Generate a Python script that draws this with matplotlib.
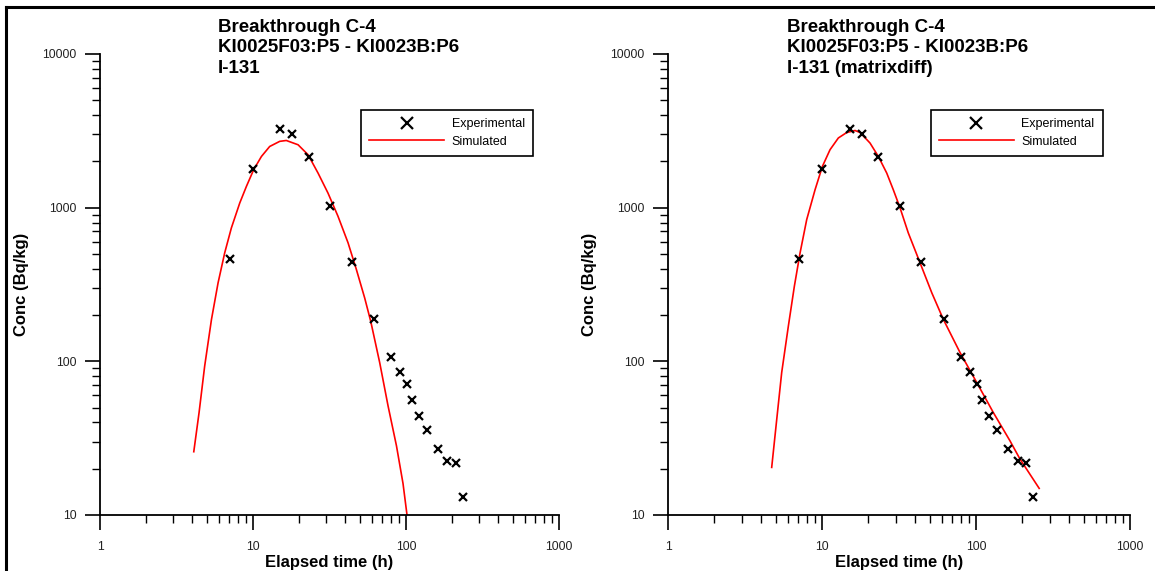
import matplotlib
matplotlib.use("Agg")
import matplotlib.pyplot as plt
from matplotlib.lines import Line2D
from matplotlib.ticker import LogLocator, NullFormatter

plt.rcParams['font.family'] = ['Liberation Sans', 'DejaVu Sans']

# measured breakthrough, I-131 (same data in both panels)
exp_time = [7.05, 10.05, 15.1, 18.1, 23.1, 32.0, 44.1, 62.0, 80.0, 92.0,
            102.0, 109.0, 121.0, 137.0, 162.0, 186.0, 211.0, 236.0]
exp_conc = [462, 1790, 3230, 3020, 2150, 1025, 446, 188, 107, 85,
            71.5, 56, 43.8, 35.5, 26.7, 22.5, 21.8, 13.0]

# model without matrix diffusion
sim_time_a = [4.10, 4.44, 4.83, 5.35, 5.91, 6.53, 7.22, 8.19, 9.05, 10.1,
              11.35, 12.85, 14.95, 16.5, 19.7, 22.9, 26.6, 30.9, 35.9, 41.8,
              47.4, 53.7, 58.8, 67.3, 76.3, 86.6, 95.6, 101.5]
sim_conc_a = [25.8, 46.4, 93, 187, 324, 508, 738, 1072, 1374, 1766,
              2153, 2500, 2700, 2735, 2565, 2208, 1679, 1244, 880, 590,
              395, 258, 182, 98, 51.3, 28.2, 16.0, 10.0]

# model with matrix diffusion
sim_time_b = [4.71, 5.08, 5.47, 6.04, 6.61, 7.2, 7.95, 9.01, 10.05, 11.27,
              12.76, 14.47, 16.37, 17.66, 20.5, 23.2, 26.3, 29.0, 32.1, 36.3,
              43.3, 51.6, 61.3, 78.7, 101.0, 129.5, 166.0, 193.0, 257.0]
sim_conc_b = [20.4, 42.0, 84.6, 169, 308, 508, 836, 1309, 1854, 2383,
              2840, 3083, 3176, 3083, 2630, 2153, 1679, 1309, 996, 685,
              437, 279, 187.5, 114, 72.8, 46.4, 30.4, 23.1, 14.9]

x_ticks = [1, 10, 100, 1000]
x_labels = ['1', '10', '100', '1000']
y_ticks = [10, 100, 1000, 10000]
y_labels = ['10', '100', '1000', '10000']

titles = ['Breakthrough C-4\nKI0025F03:P5 - KI0023B:P6\nI-131',
          'Breakthrough C-4\nKI0025F03:P5 - KI0023B:P6\nI-131 (matrixdiff)']

fig = plt.figure(figsize=(11.55, 5.71), dpi=100)
ax_left = fig.add_axes([0.0866, 0.0981, 0.3974, 0.8074])
ax_right = fig.add_axes([0.5784, 0.0981, 0.4000, 0.8074])

panels = [(ax_left, sim_time_a, sim_conc_a, titles[0]),
          (ax_right, sim_time_b, sim_conc_b, titles[1])]

for ax, st, sc, title in panels:
    ax.plot(st, sc, color='#ff0000', lw=1.2, label='Simulated', zorder=2)
    ax.plot(exp_time, exp_conc, ls='none', marker='x', ms=5.5, mew=1.6,
            color='black', label='Experimental', zorder=3)
    ax.set_xscale('log')
    ax.set_yscale('log')
    ax.set_xlim(1, 1000)
    ax.set_ylim(10, 10000)

    for side in ['top', 'right']:
        ax.spines[side].set_visible(False)
    for side in ['left', 'bottom']:
        ax.spines[side].set_linewidth(1.3)

    ax.set_xticks(x_ticks)
    ax.set_xticklabels(x_labels)
    ax.set_yticks(y_ticks)
    ax.set_yticklabels(y_labels)
    ax.xaxis.set_minor_locator(LogLocator(base=10, subs=range(2, 10)))
    ax.yaxis.set_minor_locator(LogLocator(base=10, subs=range(2, 10)))
    ax.xaxis.set_minor_formatter(NullFormatter())
    ax.yaxis.set_minor_formatter(NullFormatter())
    ax.tick_params(which='major', direction='out', length=11, width=1.2,
                   labelsize=8.8, labelcolor='#222222', pad=6.0)
    ax.tick_params(which='minor', direction='out', length=5.5, width=1.0)
    ax.tick_params(axis='x', which='major', pad=7.5)

    ax.set_xlabel('Elapsed time (h)', fontsize=12, fontweight='bold')
    ax.set_ylabel('Conc (Bq/kg)', fontsize=12, fontweight='bold')
    ax.xaxis.set_label_coords(0.5, -0.1035)
    ax.xaxis.label.set_va('center')
    ax.yaxis.set_label_coords(-0.17, 0.5)
    ax.yaxis.label.set_va('center')

    ax.text(0.257, 1.0765, title, transform=ax.transAxes, ha='left', va='top',
            fontsize=13.5, fontweight='bold', linespacing=1.28)

    handles = [Line2D([], [], ls='none', marker='x', ms=5.5, mew=1.6, color='black'),
               Line2D([], [], color='#ff0000', lw=1.2)]
    leg = ax.legend(handles, ['Experimental', 'Simulated'], loc='upper left',
                    bbox_to_anchor=(0.5686, 0.8785), borderaxespad=0,
                    fontsize=9, handlelength=6.0, handletextpad=0.6,
                    borderpad=0.65, labelspacing=0.45, markerscale=1.6,
                    fancybox=False, framealpha=1, edgecolor='black')
    leg.get_frame().set_linewidth(1.2)

# page frame lines along the top and left edges
fig.add_artist(Line2D([0.0056, 1.0], [0.9877, 0.9877], color='black', lw=2.2,
                      transform=fig.transFigure))
fig.add_artist(Line2D([0.0056, 0.0056], [0.0, 0.9877], color='black', lw=2.2,
                      transform=fig.transFigure))

fig.savefig('out.png', dpi=100)
